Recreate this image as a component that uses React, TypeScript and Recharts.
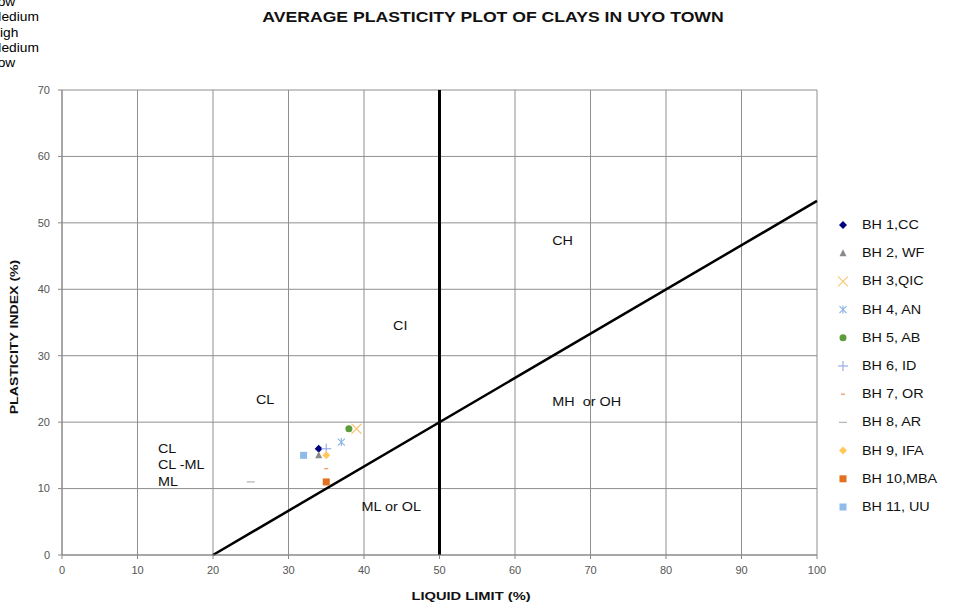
import React from "react";
import {
  ComposedChart,
  Line,
  Scatter,
  XAxis,
  YAxis,
  CartesianGrid,
} from "recharts";

const xTicks = [0, 10, 20, 30, 40, 50, 60, 70, 80, 90, 100];
const yTicks = [0, 10, 20, 30, 40, 50, 60, 70];

const aLine = [
  { x: 20, y: 0 },
  { x: 100, y: 53.3 },
];
const llLine = [
  { x: 50, y: 0 },
  { x: 50, y: 70 },
];

const boreholes = [
  "BH 1,CC",
  "BH 2, WF",
  "BH 3,QIC",
  "BH 4, AN",
  "BH 5, AB",
  "BH 6, ID",
  "BH 7, OR",
  "BH 8, AR",
  "BH 9, IFA",
  "BH 10,MBA",
  "BH 11, UU",
];
const liquidLimit = [34, 34, 39, 37, 38, 35, 35, 25, 35, 35, 32];
const plasticityIndex = [16, 15, 19, 17, 19, 16, 13, 11, 15, 11, 15];
const markerKinds = [
  "diamond",
  "triangle",
  "x",
  "star",
  "circle",
  "plus",
  "shortdash",
  "dash",
  "diamond",
  "square",
  "square",
];
const markerColors = [
  "#000080",
  "#8a8a8a",
  "#f7c97a",
  "#8fb5e3",
  "#5c9c3a",
  "#9aaee6",
  "#f0906a",
  "#b8b8b8",
  "#ffc95c",
  "#e0711f",
  "#8fbbea",
];

// zone names; anchor "middle" or "start"
const zoneLabels = [
  { x: 66.3, y: 47.3, text: "CH", anchor: "middle" },
  { x: 44.8, y: 34.5, text: "CI", anchor: "middle" },
  { x: 26.9, y: 23.3, text: "CL", anchor: "middle" },
  { x: 69.5, y: 23.1, text: "MH  or OH", anchor: "middle" },
  { x: 43.6, y: 7.2, text: "ML or OL", anchor: "middle" },
  { x: 12.7, y: 16, text: "CL", anchor: "start" },
  { x: 12.7, y: 13.5, text: "CL -ML", anchor: "start" },
  { x: 12.7, y: 11, text: "ML", anchor: "start" },
];

const sideWords = ["Low", "Medium", "High", "Medium", "Low"];

const font = "'Liberation Sans', Arial, sans-serif";

function WideText({ x, y, sx, anchor, size, children, weight }: any) {
  return (
    <g transform={`translate(${x},${y}) scale(${sx},1)`}>
      <text
        x={0}
        y={0}
        textAnchor={anchor}
        dominantBaseline="central"
        fontSize={size}
        fontWeight={weight}
        fontFamily={font}
        fill="#111"
        style={{ whiteSpace: "pre" }}
      >
        {children}
      </text>
    </g>
  );
}

function Marker({ kind, color, cx, cy }: any) {
  switch (kind) {
    case "diamond":
      return (
        <path
          d={`M${cx},${cy - 4}L${cx + 4},${cy}L${cx},${cy + 4}L${cx - 4},${cy}Z`}
          fill={color}
        />
      );
    case "triangle":
      return (
        <path
          d={`M${cx},${cy - 4}L${cx + 3.5},${cy + 3}L${cx - 3.5},${cy + 3}Z`}
          fill={color}
        />
      );
    case "x":
      return (
        <g stroke={color} strokeWidth={1.3}>
          <line x1={cx - 5} y1={cy - 5} x2={cx + 5} y2={cy + 5} />
          <line x1={cx - 5} y1={cy + 5} x2={cx + 5} y2={cy - 5} />
        </g>
      );
    case "star":
      return (
        <g stroke={color} strokeWidth={1.2}>
          <line x1={cx - 3.5} y1={cy - 3.5} x2={cx + 3.5} y2={cy + 3.5} />
          <line x1={cx - 3.5} y1={cy + 3.5} x2={cx + 3.5} y2={cy - 3.5} />
          <line x1={cx} y1={cy - 4} x2={cx} y2={cy + 4} />
        </g>
      );
    case "circle":
      return <circle cx={cx} cy={cy} r={3.5} fill={color} />;
    case "plus":
      return (
        <g stroke={color} strokeWidth={1.2}>
          <line x1={cx - 5} y1={cy} x2={cx + 5} y2={cy} />
          <line x1={cx} y1={cy - 5} x2={cx} y2={cy + 5} />
        </g>
      );
    case "shortdash":
      return (
        <line x1={cx - 2} y1={cy} x2={cx + 2} y2={cy} stroke={color} strokeWidth={1.2} />
      );
    case "dash":
      return (
        <line x1={cx - 4} y1={cy} x2={cx + 4} y2={cy} stroke={color} strokeWidth={1.3} />
      );
    case "square":
      return <rect x={cx - 3.5} y={cy - 3.5} width={7} height={7} fill={color} />;
    default:
      return null;
  }
}

export default function App() {
  const tickStyle = { fontSize: 11, fill: "#555", fontFamily: font };
  return (
    <div
      style={{
        position: "absolute",
        left: 0,
        top: 0,
        width: 956,
        height: 605,
        background: "#fff",
        fontFamily: font,
        overflow: "hidden",
      }}
    >
      <div
        style={{
          position: "absolute",
          left: -10.5,
          top: -5,
          fontSize: 12.5,
          lineHeight: "15.3px",
          color: "#000",
          transform: "scaleX(1.1)",
          transformOrigin: "left top",
        }}
      >
        {sideWords.map((w, i) => (
          <div key={i}>{w}</div>
        ))}
      </div>
      <svg style={{ position: "absolute", left: 0, top: 0 }} width={956} height={605}>
        <WideText x={493} y={17} sx={1.26} anchor="middle" size={14} weight="bold">
          AVERAGE PLASTICITY PLOT OF CLAYS IN UYO TOWN
        </WideText>
        <g transform="translate(15,337) rotate(-90)">
          <WideText x={0} y={0} sx={1.28} anchor="middle" size={11} weight="bold">
            PLASTICITY INDEX (%)
          </WideText>
        </g>
        <WideText x={471} y={596} sx={1.28} anchor="middle" size={11.5} weight="bold">
          LIQUID LIMIT (%)
        </WideText>
      </svg>
      <div style={{ position: "absolute", left: 0, top: 0 }}>
        <ComposedChart
          width={956}
          height={605}
          margin={{ top: 90, right: 139, bottom: 30, left: 22 }}
        >
          <CartesianGrid stroke="#8f8f8f" strokeWidth={1} />
          <XAxis
            type="number"
            dataKey="x"
            domain={[0, 100]}
            ticks={xTicks}
            interval={0}
            height={20}
            stroke="#888"
            tickSize={4}
            tickMargin={7}
            tick={tickStyle}
          />
          <YAxis
            type="number"
            dataKey="y"
            domain={[0, 70]}
            ticks={yTicks}
            interval={0}
            width={40}
            stroke="#888"
            tickSize={4}
            tickMargin={8}
            tick={tickStyle}
          />
          <Scatter
            data={zoneLabels}
            dataKey="y"
            isAnimationActive={false}
            shape={(p: any) => (
              <WideText x={p.cx} y={p.cy} sx={1.2} anchor={p.payload.anchor} size={12}>
                {p.payload.text}
              </WideText>
            )}
          />
          <Line
            data={aLine}
            dataKey="y"
            type="linear"
            stroke="#000"
            strokeWidth={2.5}
            dot={false}
            isAnimationActive={false}
          />
          <Line
            data={llLine}
            dataKey="y"
            type="linear"
            stroke="#000"
            strokeWidth={3}
            dot={false}
            isAnimationActive={false}
          />
          {boreholes.map((name, i) => (
            <Scatter
              key={name}
              name={name}
              data={[{ x: liquidLimit[i], y: plasticityIndex[i] }]}
              dataKey="y"
              isAnimationActive={false}
              shape={(p: any) => (
                <Marker kind={markerKinds[i]} color={markerColors[i]} cx={p.cx} cy={p.cy} />
              )}
            />
          ))}
        </ComposedChart>
      </div>
      <svg style={{ position: "absolute", left: 830, top: 212 }} width={126} height={310}>
        {boreholes.map((name, i) => (
          <g key={name}>
            <Marker kind={markerKinds[i]} color={markerColors[i]} cx={13} cy={13 + i * 28.2} />
            <WideText x={32} y={13 + i * 28.2} sx={1.2} anchor="start" size={12}>
              {name}
            </WideText>
          </g>
        ))}
      </svg>
    </div>
  );
}
